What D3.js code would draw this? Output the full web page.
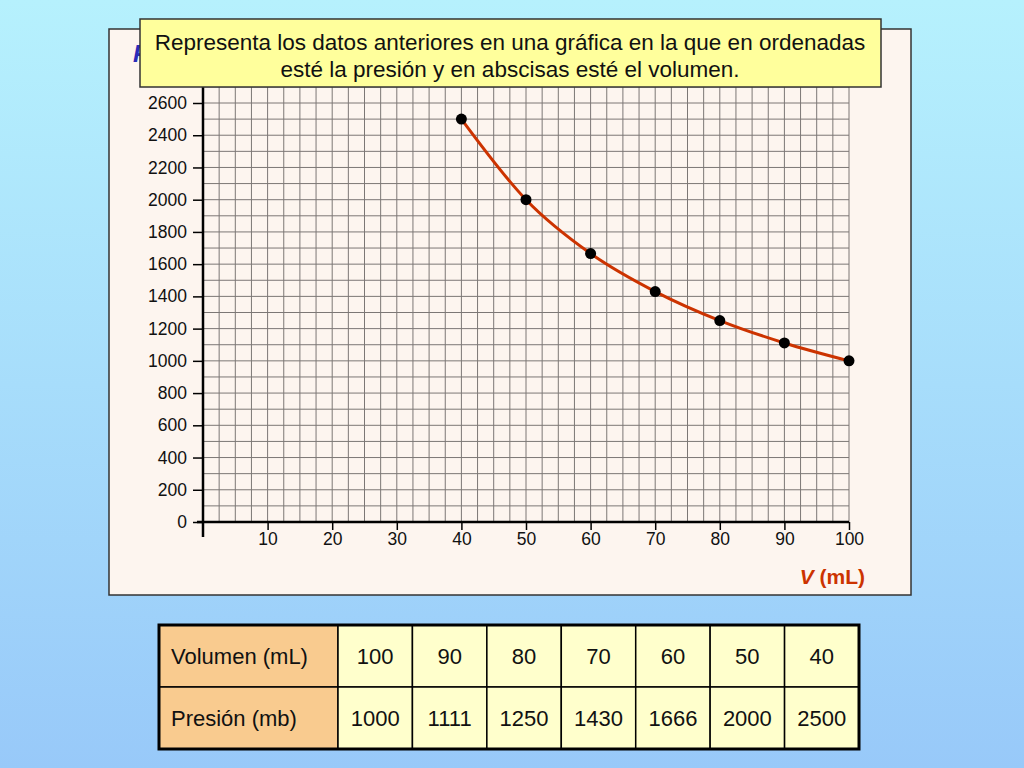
<!DOCTYPE html>
<html>
<head>
<meta charset="utf-8">
<script src="https://cdn.jsdelivr.net/npm/d3@7"></script>
<style>
  body { margin: 0; }
  svg { display: block; font-family: "Liberation Sans", Arial, sans-serif; }
</style>
</head>
<body>
<div id="chart"></div>
<script>
var volumes = [100, 90, 80, 70, 60, 50, 40];
var pressures = [1000, 1111, 1250, 1430, 1666, 2000, 2500];
var xTicks = [10, 20, 30, 40, 50, 60, 70, 80, 90, 100];
var yTicks = [0, 200, 400, 600, 800, 1000, 1200, 1400, 1600, 1800, 2000, 2200, 2400, 2600];
var rowLabels = ["Volumen (mL)", "Presión (mb)"];
var titleLines = ["Representa los datos anteriores en una gráfica en la que en ordenadas",
                  "esté la presión y en abscisas esté el volumen."];

var svgWidth = 1024;
var svgHeight = 768;

var svg = d3.select("#chart").append("svg")
    .attr("width", svgWidth)
    .attr("height", svgHeight);

// background gradient
var defs = svg.append("defs");
var grad = defs.append("linearGradient")
    .attr("id", "bg")
    .attr("x1", 0).attr("y1", 0).attr("x2", 0).attr("y2", 1);
grad.append("stop").attr("offset", "0%").attr("stop-color", "#b6f1fd");
grad.append("stop").attr("offset", "100%").attr("stop-color", "#98c9f9");
svg.append("rect")
    .attr("width", svgWidth).attr("height", svgHeight)
    .attr("fill", "url(#bg)");

// chart panel
svg.append("rect")
    .attr("x", 109).attr("y", 29)
    .attr("width", 802).attr("height", 566)
    .attr("fill", "#fdf5ef")
    .attr("stroke", "#333")
    .attr("stroke-width", 1.5);

// scales
var xScale = d3.scaleLinear().domain([0, 100]).range([203, 849]);
var yScale = d3.scaleLinear().domain([0, 2600]).range([522, 103]);

// grid
var grid = svg.append("g").attr("stroke", "#7c7775").attr("stroke-width", 1);
grid.selectAll("line.v")
    .data(d3.range(0, 100.01, 2.5))
    .enter().append("line")
    .attr("x1", d => xScale(d)).attr("x2", d => xScale(d))
    .attr("y1", yScale(0)).attr("y2", yScale(2800));
grid.selectAll("line.h")
    .data(d3.range(0, 2801, 100))
    .enter().append("line")
    .attr("x1", xScale(0)).attr("x2", xScale(100))
    .attr("y1", d => yScale(d)).attr("y2", d => yScale(d));

// y axis
var leftAxis = d3.axisLeft(yScale).tickValues(yTicks).tickSize(10).tickPadding(6).tickFormat(d3.format("d"));
var yAxisG = svg.append("g")
    .attr("transform", `translate(${xScale(0)},0)`)
    .call(leftAxis);
yAxisG.select(".domain").remove();
yAxisG.append("line")
    .attr("x1", 0).attr("x2", 0)
    .attr("y1", yScale(0) + 15).attr("y2", yScale(2800))
    .attr("stroke", "#000").attr("stroke-width", 2.5);

// x axis
var bottomAxis = d3.axisBottom(xScale).tickValues(xTicks).tickSize(8).tickPadding(3);
var xAxisG = svg.append("g")
    .attr("transform", `translate(0,${yScale(0)})`)
    .call(bottomAxis);
xAxisG.select(".domain").remove();
xAxisG.append("line")
    .attr("x1", xScale(0) - 6).attr("x2", xScale(100))
    .attr("y1", 0).attr("y2", 0)
    .attr("stroke", "#000").attr("stroke-width", 2.5);

svg.selectAll(".tick line").attr("stroke", "#000").attr("stroke-width", 1.5);
svg.selectAll(".tick text")
    .attr("fill", "#111")
    .style("font-size", "17.5px")
    .style("font-family", "'Liberation Sans', Arial, sans-serif");

// curve
var points = volumes.map((v, i) => ({ v: v, p: pressures[i] }))
    .sort((a, b) => a.v - b.v);
var line = d3.line()
    .x(d => xScale(d.v))
    .y(d => yScale(d.p))
    .curve(d3.curveMonotoneX);
svg.append("path")
    .datum(points)
    .attr("d", line)
    .attr("fill", "none")
    .attr("stroke", "#cc3300")
    .attr("stroke-width", 3);
svg.selectAll("circle.pt")
    .data(points)
    .enter().append("circle")
    .attr("cx", d => xScale(d.v))
    .attr("cy", d => yScale(d.p))
    .attr("r", 5.5)
    .attr("fill", "#000");

// axis titles
var vLabel = svg.append("text")
    .attr("x", 865).attr("y", 584)
    .attr("text-anchor", "end")
    .attr("fill", "#cc3300")
    .style("font-size", "21px")
    .style("font-weight", "bold");
vLabel.append("tspan").style("font-style", "italic").text("V");
vLabel.append("tspan").text(" (mL)");

// P label sits mostly under the title box, as in the original slide
var pLabel = svg.append("text")
    .attr("x", 133).attr("y", 62)
    .attr("fill", "#2b2bb8")
    .style("font-size", "24px")
    .style("font-weight", "bold");
pLabel.append("tspan").style("font-style", "italic").text("P");
pLabel.append("tspan").text(" (mb)");

// title box
svg.append("rect")
    .attr("x", 140).attr("y", 19)
    .attr("width", 741).attr("height", 68)
    .attr("fill", "#ffff9c")
    .attr("stroke", "#333")
    .attr("stroke-width", 1.5);
svg.selectAll("text.title")
    .data(titleLines)
    .enter().append("text")
    .attr("class", "title")
    .attr("x", 510)
    .attr("y", (d, i) => 50 + i * 27)
    .attr("text-anchor", "middle")
    .attr("fill", "#111")
    .style("font-size", "22.5px")
    .text(d => d);

// data table
var tableTop = 625, rowH = 62, firstColW = 179;
var colScale = d3.scaleBand()
    .domain(d3.range(volumes.length))
    .range([338, 859]);
var rows = [volumes, pressures];

rows.forEach(function(row, r) {
    var y0 = tableTop + r * rowH;
    svg.append("rect")
        .attr("x", 159).attr("y", y0)
        .attr("width", firstColW).attr("height", rowH)
        .attr("fill", "#f9cb8f")
        .attr("stroke", "#000").attr("stroke-width", 1.5);
    svg.append("text")
        .attr("x", 171).attr("y", y0 + rowH / 2 + 8)
        .attr("fill", "#111")
        .style("font-size", "22px")
        .text(rowLabels[r]);
    svg.selectAll("rect.c" + r)
        .data(row)
        .enter().append("rect")
        .attr("x", (d, i) => colScale(i))
        .attr("y", y0)
        .attr("width", colScale.bandwidth())
        .attr("height", rowH)
        .attr("fill", "#ffffcc")
        .attr("stroke", "#000").attr("stroke-width", 1.5);
    svg.selectAll("text.c" + r)
        .data(row)
        .enter().append("text")
        .attr("x", (d, i) => colScale(i) + colScale.bandwidth() / 2)
        .attr("y", y0 + rowH / 2 + 8)
        .attr("text-anchor", "middle")
        .attr("fill", "#111")
        .style("font-size", "22px")
        .text(d => d);
});
svg.append("rect")
    .attr("x", 159).attr("y", tableTop)
    .attr("width", 859 - 159).attr("height", rowH * 2)
    .attr("fill", "none")
    .attr("stroke", "#000").attr("stroke-width", 3);
</script>
</body>
</html>
